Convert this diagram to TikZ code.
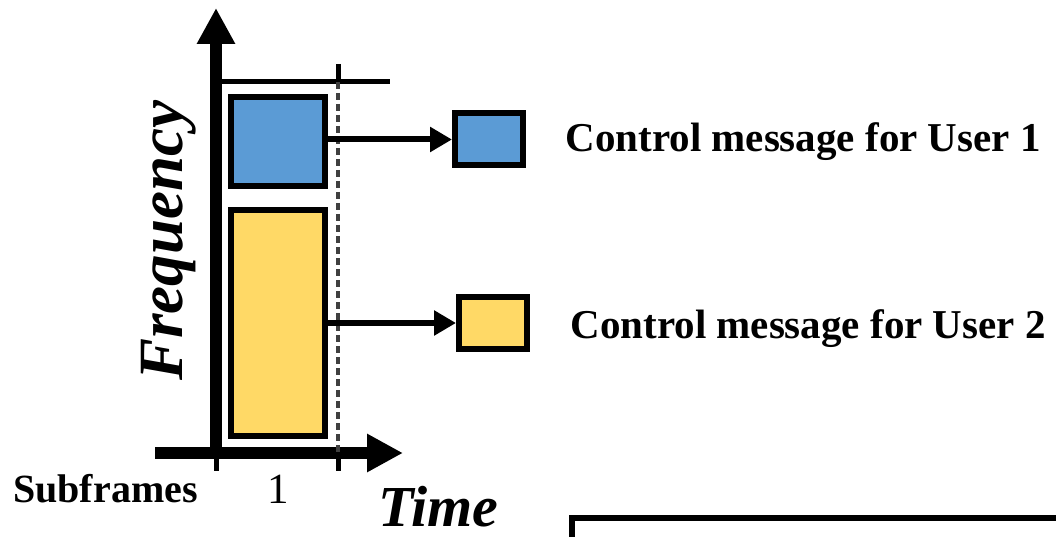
\documentclass[tikz,border=0pt]{standalone}
\usepackage{fontspec}
\setmainfont{Liberation Serif}
\usetikzlibrary{arrows.meta}
\tikzset{>={Triangle[length=36pt,width=36pt]}}
\definecolor{ctrlblue}{HTML}{5B9BD5}
\definecolor{ctrlyellow}{HTML}{FFD966}
\definecolor{gridgray}{HTML}{404040}

\begin{document}
\begin{tikzpicture}[x=1pt, y=-1pt]
    \useasboundingbox (0,0) rectangle (1056,537);
    \tikzset{slot/.style={draw, line width=6pt, inner sep=0pt, minimum width=94pt}}
    \tikzset{msg/.style={draw, line width=6pt, inner sep=0pt, minimum width=68pt, minimum height=52pt}}

    % axes
    \coordinate (o) at (216,453);
    \coordinate (ftop) at (216,8);
    \coordinate (tin) at (155,453);
    \coordinate (tend) at (403,453);
    \path [draw, ->, line width=12pt] (tin) -- (tend);
    \path [draw, ->, line width=12pt] (o) -- (ftop);

    % subframe borders
    \coordinate (b0) at (216,471);
    \coordinate (b1) at (338,471);
    \coordinate (b1top) at (338,64);
    \coordinate (b1cut) at (338,82);
    \coordinate (rend) at (390,82);
    \path [draw, line width=5pt] (o) -- (b0);
    \path [draw, line width=5pt] (338,453) -- (b1);
    \path [draw, line width=5pt] (216,82) -- (rend);
    \path [draw, line width=5pt] (b1top) -- (b1cut);
    \path [draw, gridgray, line width=4.5pt, dash pattern=on 7pt off 4pt] (b1cut) -- (338,453);

    \node (slot1) at (278,141.5) [slot, fill=ctrlblue, minimum height=89pt] {};
    \node (slot2) at (278,323) [slot, fill=ctrlyellow, minimum height=226pt] {};
    \node (m1) at (489,139.5) [msg, fill=ctrlblue] {};
    \node (m2) at (493,323) [msg, fill=ctrlyellow] {};

    \path [draw, -{Triangle[length=22pt,width=24pt]}, line width=6pt] (slot1.east |- m1.west) -- (m1.west);
    \path [draw, -{Triangle[length=22pt,width=24pt]}, line width=6pt] (slot2.east |- m2.west) -- (m2.west);

    \node (u1) at (562,152) [anchor=base west, font=\fontsize{41}{41}\selectfont\bfseries] {Control message for User 1};
    \node (u2) at (567,338) [anchor=base west, font=\fontsize{41}{41}\selectfont\bfseries] {Control message for User 2};

    \node (sub) at (13,502) [anchor=base west, inner sep=0pt, font=\fontsize{40}{40}\selectfont\bfseries] {Subframes};
    \node (one) at (278,503) [anchor=base, inner sep=0pt, font=\fontsize{43}{43}\selectfont] {1};
    \node (t) at (378,526) [anchor=base west, inner sep=0pt, font=\fontsize{58}{58}\selectfont\bfseries\itshape] {Time};
    \node (f) at (182,381) [anchor=base west, inner sep=0pt, rotate=90, font=\fontsize{63}{63}\selectfont\bfseries\itshape] {Frequency};

    % next panel, cut off
    \path [draw, line width=6pt] (572,540) -- (572,518) -- (1060,518);
\end{tikzpicture}
\end{document}
